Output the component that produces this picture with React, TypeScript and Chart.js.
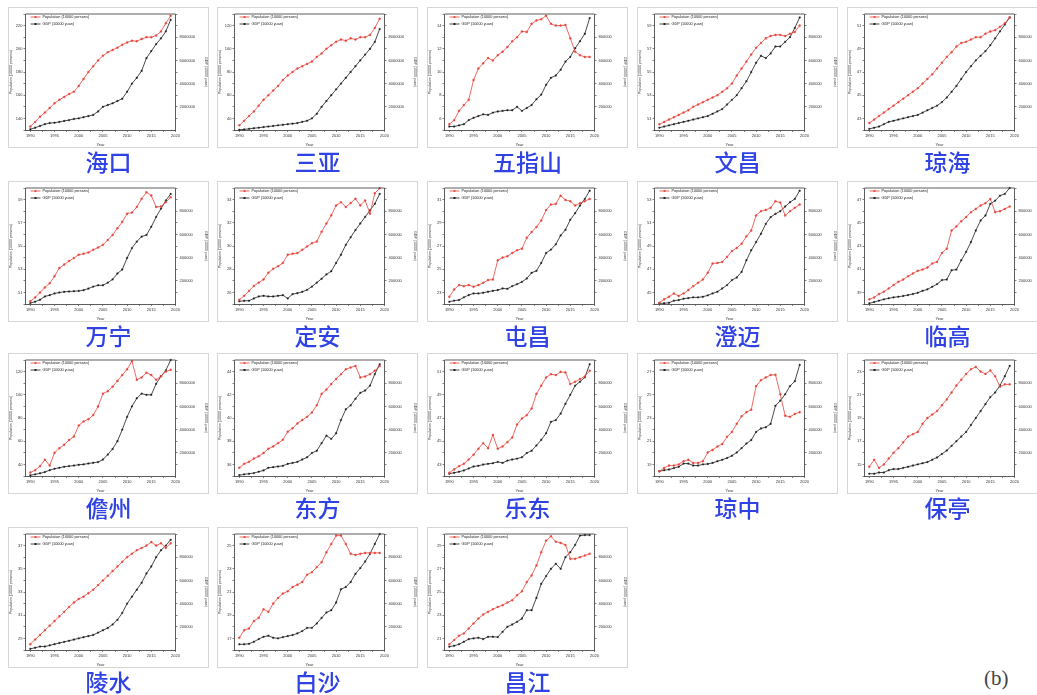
import React, { useEffect, useRef } from "react";
import { Chart, registerables } from "chart.js";

Chart.register(...registerables);

const years = [1990, 1991, 1992, 1993, 1994, 1995, 1996, 1997, 1998, 1999, 2000, 2001, 2002, 2003, 2004, 2005, 2006, 2007, 2008, 2009, 2010, 2011, 2012, 2013, 2014, 2015, 2016, 2017, 2018, 2019];
const yearTicks = [1990, 1995, 2000, 2005, 2010, 2015, 2020];

const popLabel = "Population (10000 persons)";
const gdpLabel = "GDP (10000 yuan)";

// 海口
const haikouPop = [133, 137, 141.5, 145, 149, 153, 156, 158.5, 161, 163, 168, 174, 180, 185, 190, 194, 197, 199, 201, 203.5, 205.5, 207, 206.5, 208.5, 210, 210, 211.5, 215, 222, 228.5];
const haikouGdp = [60000, 200000, 350000, 500000, 600000, 630000, 700000, 780000, 850000, 950000, 1000000, 1100000, 1200000, 1300000, 1600000, 2000000, 2150000, 2300000, 2500000, 2700000, 3300000, 4000000, 4500000, 5100000, 6200000, 6800000, 7400000, 7900000, 8500000, 9500000];
const haikouPopTicks = [140, 160, 180, 200, 220];
const haikouGdpTicks = [2000000, 4000000, 6000000, 8000000];
// 三亚
const sanyaPop = [34, 38, 42, 46, 51, 56, 60, 64, 68, 73, 77, 80, 83, 85, 87, 89, 93, 96, 100, 103, 106, 108, 107, 109, 108, 110, 110, 112, 118, 126];
const sanyaGdp = [20000, 50000, 100000, 150000, 200000, 250000, 300000, 350000, 400000, 450000, 500000, 550000, 600000, 700000, 800000, 1000000, 1400000, 2000000, 2500000, 3000000, 3500000, 4000000, 4500000, 5000000, 5500000, 6000000, 6500000, 7000000, 7600000, 8700000];
const sanyaPopTicks = [40, 60, 80, 100, 120];
const sanyaGdpTicks = [2000000, 4000000, 6000000, 8000000];
// 五指山
const wuzhishanPop = [5.5, 5.85, 6.65, 7.15, 7.6, 9.3, 10.3, 10.75, 11.2, 11.0, 11.45, 11.75, 12.15, 12.65, 13.0, 13.5, 13.45, 14.15, 14.45, 14.55, 14.85, 14.15, 14.0, 14.0, 14.05, 12.9, 11.75, 11.45, 11.3, 11.3];
const wuzhishanGdp = [30000, 30000, 40000, 50000, 85000, 105000, 120000, 135000, 130000, 150000, 160000, 165000, 170000, 170000, 200000, 165000, 190000, 215000, 265000, 305000, 390000, 450000, 470000, 520000, 590000, 630000, 705000, 765000, 830000, 965000];
const wuzhishanPopTicks = [6, 8, 10, 12, 14];
const smallGdpTicks = [200000, 400000, 600000, 800000];
// 文昌
const wenchangPop = [50.5, 50.7, 50.9, 51.1, 51.3, 51.5, 51.7, 52.0, 52.2, 52.4, 52.6, 52.8, 53.0, 53.3, 53.6, 54.0, 54.7, 55.3, 55.9, 56.5, 57.1, 57.5, 57.9, 58.1, 58.2, 58.2, 58.1, 58.3, 58.45, 59.0];
const wenchangGdp = [20000, 30000, 40000, 50000, 60000, 70000, 80000, 90000, 100000, 110000, 120000, 140000, 160000, 180000, 220000, 260000, 300000, 360000, 420000, 500000, 580000, 640000, 620000, 660000, 720000, 720000, 760000, 800000, 880000, 970000];
const wenchangPopTicks = [51, 53, 55, 57, 59];
// 琼海
const qionghaiPop = [42.6, 42.9, 43.2, 43.5, 43.8, 44.1, 44.4, 44.7, 45.0, 45.3, 45.6, 46.0, 46.4, 46.8, 47.3, 47.8, 48.3, 48.7, 49.2, 49.5, 49.6, 49.8, 50.0, 50.0, 50.3, 50.5, 50.6, 50.9, 51.2, 51.7];
const qionghaiGdp = [10000, 20000, 30000, 50000, 70000, 80000, 90000, 100000, 110000, 120000, 130000, 150000, 170000, 190000, 210000, 240000, 280000, 330000, 380000, 440000, 500000, 550000, 600000, 640000, 680000, 730000, 790000, 850000, 910000, 970000];
const qionghaiPopTicks = [43, 45, 47, 49, 51];
// 万宁
const wanningPop = [50.23, 50.57, 50.99, 51.42, 51.78, 52.4, 53.1, 53.4, 53.7, 53.96, 54.25, 54.33, 54.45, 54.67, 54.87, 55.1, 55.52, 55.95, 56.52, 57.08, 57.79, 57.88, 58.36, 59.07, 59.63, 59.35, 58.36, 58.41, 58.78, 59.2];
const wanningGdp = [8000, 20000, 37000, 65000, 76000, 91000, 99000, 105000, 108000, 110000, 113000, 119000, 133000, 150000, 161000, 161000, 184000, 212000, 263000, 297000, 397000, 482000, 538000, 581000, 595000, 666000, 751000, 822000, 892000, 949000];
const wanningPopTicks = [51, 53, 55, 57, 59];
// 定安
const dinganPop = [25.37, 25.71, 26.13, 26.56, 26.84, 27.12, 27.69, 28.03, 28.26, 28.54, 29.25, 29.33, 29.39, 29.67, 29.96, 30.24, 30.38, 31.23, 31.94, 32.65, 33.5, 33.78, 33.36, 33.7, 34.07, 33.5, 33.92, 32.79, 34.55, 34.97];
const dinganGdp = [23000, 28000, 28000, 48000, 65000, 71000, 65000, 65000, 71000, 76000, 48000, 85000, 93000, 105000, 122000, 150000, 184000, 218000, 255000, 283000, 354000, 425000, 510000, 575000, 637000, 694000, 751000, 807000, 864000, 949000];
const dinganPopTicks = [26, 28, 30, 32, 34];
// 屯昌
const tunchangPop = [22.63, 23.26, 23.63, 23.54, 23.63, 23.49, 23.63, 23.83, 24.06, 24.11, 25.77, 26.0, 26.11, 26.4, 26.63, 26.77, 27.71, 28.2, 28.63, 29.2, 30.11, 30.57, 30.63, 31.34, 30.97, 30.86, 30.49, 30.69, 30.86, 31.06];
const tunchangGdp = [20000, 29000, 34000, 57000, 77000, 91000, 91000, 97000, 106000, 114000, 120000, 134000, 131000, 154000, 171000, 191000, 220000, 269000, 286000, 354000, 440000, 469000, 514000, 591000, 640000, 726000, 783000, 849000, 906000, 977000];
const tunchangPopTicks = [23, 25, 27, 29, 31];
// 澄迈
const chengmaiPop = [44.11, 44.4, 44.63, 44.91, 44.69, 44.91, 45.2, 45.54, 45.83, 46.11, 46.69, 47.49, 47.54, 47.63, 48.06, 48.57, 48.83, 49.2, 49.83, 50.34, 51.63, 52.0, 52.11, 52.29, 52.86, 52.74, 51.63, 52.0, 52.29, 52.57];
const chengmaiGdp = [6000, 6000, 11000, 29000, 34000, 46000, 51000, 57000, 57000, 63000, 74000, 91000, 106000, 134000, 163000, 206000, 229000, 277000, 377000, 463000, 534000, 606000, 691000, 749000, 777000, 800000, 840000, 877000, 906000, 977000];
const chengmaiPopTicks = [45, 47, 49, 51, 53];
// 临高
const lingaoPop = [38.4, 38.57, 38.86, 39.06, 39.34, 39.63, 39.91, 40.11, 40.4, 40.63, 40.86, 40.97, 41.14, 41.49, 41.63, 42.4, 42.77, 44.34, 44.69, 45.14, 45.49, 45.91, 46.2, 46.49, 46.69, 47.06, 45.91, 46.0, 46.2, 46.4];
const lingaoGdp = [6000, 17000, 29000, 40000, 49000, 57000, 63000, 69000, 77000, 86000, 97000, 114000, 126000, 149000, 171000, 206000, 211000, 291000, 297000, 377000, 449000, 534000, 634000, 720000, 763000, 863000, 891000, 934000, 949000, 1000000];
const lingaoPopTicks = [39, 41, 43, 45, 47];
// 儋州
const danzhouPop = [33, 35, 38.5, 44, 39, 50, 54, 57, 61, 64, 73.5, 77, 79, 82.5, 90, 101, 103, 107, 112, 117, 122, 129, 113, 115, 119, 117, 113, 116, 120, 121.5];
const danzhouGdp = [60000, 140000, 230000, 340000, 500000, 630000, 710000, 800000, 850000, 900000, 970000, 1000000, 1080000, 1140000, 1200000, 1420000, 1850000, 2330000, 3000000, 4000000, 5100000, 6000000, 6700000, 7100000, 7000000, 7000000, 7950000, 8600000, 9100000, 10000000];
const danzhouPopTicks = [40, 60, 80, 100, 120];
const danzhouGdpTicks = [2000000, 4000000, 6000000, 8000000];
// 东方
const dongfangPop = [35.71, 36.05, 36.22, 36.5, 36.7, 36.98, 37.35, 37.55, 37.83, 38.12, 38.82, 39.11, 39.53, 39.82, 40.1, 40.47, 41.09, 42.08, 42.45, 42.93, 43.36, 43.78, 44.2, 44.35, 44.49, 43.5, 43.58, 43.78, 44.07, 44.49];
const dongfangGdp = [8000, 14000, 20000, 25000, 37000, 48000, 71000, 76000, 82000, 88000, 105000, 113000, 122000, 142000, 161000, 198000, 218000, 283000, 348000, 320000, 368000, 482000, 575000, 609000, 666000, 717000, 737000, 779000, 878000, 963000];
const dongfangPopTicks = [36, 38, 40, 42, 44];
// 乐东
const ledongPop = [42.28, 42.57, 42.85, 43.05, 43.42, 43.84, 44.35, 44.83, 44.4, 45.54, 44.35, 44.55, 44.92, 45.31, 46.45, 46.96, 47.24, 47.81, 49.08, 49.79, 50.5, 50.78, 50.7, 50.98, 50.92, 49.93, 50.13, 50.36, 50.58, 51.07];
const ledongGdp = [20000, 28000, 37000, 48000, 65000, 82000, 88000, 99000, 105000, 110000, 122000, 113000, 133000, 142000, 150000, 161000, 198000, 218000, 263000, 312000, 368000, 467000, 482000, 538000, 623000, 700000, 779000, 813000, 850000, 963000];
const ledongPopTicks = [43, 45, 47, 49, 51];
// 琼中
const qiongzhongPop = [18.4, 18.7, 18.9, 18.9, 19.0, 19.27, 19.4, 19.13, 19.13, 19.27, 20.03, 20.25, 20.54, 20.76, 21.38, 21.8, 22.5, 23.15, 23.5, 23.72, 25.75, 26.25, 26.5, 26.7, 26.73, 25.04, 23.2, 23.1, 23.35, 23.5];
const qiongzhongGdp = [40000, 50000, 56000, 68000, 80000, 107000, 107000, 90000, 90000, 100000, 104000, 113000, 127000, 140000, 155000, 175000, 203000, 240000, 280000, 310000, 380000, 410000, 420000, 450000, 606000, 650000, 704000, 775000, 817000, 958000];
const qiongzhongPopTicks = [19, 21, 23, 25, 27];
// 保亭
const baotingPop = [14.8, 15.4, 14.7, 15.0, 15.5, 16.0, 16.4, 16.9, 17.4, 17.6, 17.8, 18.5, 19.0, 19.3, 19.6, 20.1, 20.6, 21.2, 21.8, 22.3, 22.8, 23.2, 23.4, 23.0, 22.8, 23.1, 22.6, 21.7, 21.9, 21.9];
const baotingGdp = [20000, 20000, 30000, 30000, 50000, 60000, 60000, 70000, 80000, 90000, 100000, 110000, 120000, 140000, 160000, 190000, 220000, 260000, 300000, 340000, 380000, 440000, 500000, 560000, 620000, 680000, 720000, 780000, 860000, 950000];
const baotingPopTicks = [15, 17, 19, 21, 23];
// 陵水
const lingshuiPop = [28.5, 28.9, 29.3, 29.7, 30.1, 30.5, 30.9, 31.3, 31.7, 32.1, 32.4, 32.6, 32.9, 33.2, 33.6, 34.0, 34.4, 34.8, 35.2, 35.6, 36.0, 36.3, 36.6, 36.8, 37.0, 37.3, 37.0, 37.2, 36.8, 37.2];
const lingshuiGdp = [10000, 20000, 30000, 30000, 40000, 50000, 60000, 70000, 80000, 90000, 100000, 110000, 120000, 130000, 150000, 170000, 190000, 220000, 260000, 320000, 400000, 460000, 520000, 580000, 660000, 720000, 800000, 860000, 900000, 950000];
const lingshuiPopTicks = [29, 31, 33, 35, 37];
// 白沙
const baishaPop = [17.06, 17.71, 17.86, 18.49, 18.77, 19.51, 19.29, 20.0, 20.49, 20.86, 21.06, 21.43, 21.63, 21.86, 22.49, 22.71, 23.14, 23.57, 24.43, 25.14, 25.86, 25.86, 25.14, 24.29, 24.2, 24.29, 24.37, 24.37, 24.37, 24.37];
const baishaGdp = [49000, 49000, 54000, 71000, 94000, 114000, 123000, 106000, 100000, 111000, 120000, 129000, 143000, 163000, 191000, 191000, 229000, 277000, 323000, 343000, 409000, 523000, 543000, 586000, 657000, 706000, 763000, 829000, 914000, 1000000];
const baishaPopTicks = [17, 19, 21, 23, 25];
// 昌江
const changjiangPop = [20.49, 20.86, 21.23, 21.43, 21.86, 22.29, 22.71, 23.06, 23.29, 23.51, 23.71, 23.86, 24.09, 24.29, 24.71, 25.06, 25.86, 26.43, 27.29, 28.43, 29.43, 29.8, 29.34, 29.23, 29.06, 27.86, 27.86, 28.0, 28.14, 28.29];
const changjiangGdp = [29000, 37000, 49000, 71000, 94000, 100000, 106000, 94000, 114000, 114000, 111000, 157000, 200000, 220000, 243000, 271000, 343000, 343000, 449000, 571000, 637000, 700000, 743000, 700000, 800000, 843000, 906000, 986000, 991000, 991000];
const changjiangPopTicks = [21, 23, 25, 27, 29];

type City = {
  name: string;
  pop: number[];
  gdp: number[];
  popMin: number;
  popMax: number;
  gdpMax: number;
  popTicks: number[];
  gdpTicks: number[];
};

const cities: City[] = [
  { name: "海口", pop: haikouPop, gdp: haikouGdp, popMin: 130, popMax: 230, gdpMax: 10000000, popTicks: haikouPopTicks, gdpTicks: haikouGdpTicks },
  { name: "三亚", pop: sanyaPop, gdp: sanyaGdp, popMin: 30, popMax: 130, gdpMax: 10000000, popTicks: sanyaPopTicks, gdpTicks: sanyaGdpTicks },
  { name: "五指山", pop: wuzhishanPop, gdp: wuzhishanGdp, popMin: 5, popMax: 15, gdpMax: 1000000, popTicks: wuzhishanPopTicks, gdpTicks: smallGdpTicks },
  { name: "文昌", pop: wenchangPop, gdp: wenchangGdp, popMin: 50, popMax: 60, gdpMax: 1000000, popTicks: wenchangPopTicks, gdpTicks: smallGdpTicks },
  { name: "琼海", pop: qionghaiPop, gdp: qionghaiGdp, popMin: 42, popMax: 52, gdpMax: 1000000, popTicks: qionghaiPopTicks, gdpTicks: smallGdpTicks },
  { name: "万宁", pop: wanningPop, gdp: wanningGdp, popMin: 50, popMax: 60, gdpMax: 1000000, popTicks: wanningPopTicks, gdpTicks: smallGdpTicks },
  { name: "定安", pop: dinganPop, gdp: dinganGdp, popMin: 25, popMax: 35, gdpMax: 1000000, popTicks: dinganPopTicks, gdpTicks: smallGdpTicks },
  { name: "屯昌", pop: tunchangPop, gdp: tunchangGdp, popMin: 22, popMax: 32, gdpMax: 1000000, popTicks: tunchangPopTicks, gdpTicks: smallGdpTicks },
  { name: "澄迈", pop: chengmaiPop, gdp: chengmaiGdp, popMin: 44, popMax: 54, gdpMax: 1000000, popTicks: chengmaiPopTicks, gdpTicks: smallGdpTicks },
  { name: "临高", pop: lingaoPop, gdp: lingaoGdp, popMin: 38, popMax: 48, gdpMax: 1000000, popTicks: lingaoPopTicks, gdpTicks: smallGdpTicks },
  { name: "儋州", pop: danzhouPop, gdp: danzhouGdp, popMin: 30, popMax: 130, gdpMax: 10000000, popTicks: danzhouPopTicks, gdpTicks: danzhouGdpTicks },
  { name: "东方", pop: dongfangPop, gdp: dongfangGdp, popMin: 35, popMax: 45, gdpMax: 1000000, popTicks: dongfangPopTicks, gdpTicks: smallGdpTicks },
  { name: "乐东", pop: ledongPop, gdp: ledongGdp, popMin: 42, popMax: 52, gdpMax: 1000000, popTicks: ledongPopTicks, gdpTicks: smallGdpTicks },
  { name: "琼中", pop: qiongzhongPop, gdp: qiongzhongGdp, popMin: 18, popMax: 28, gdpMax: 1000000, popTicks: qiongzhongPopTicks, gdpTicks: smallGdpTicks },
  { name: "保亭", pop: baotingPop, gdp: baotingGdp, popMin: 14, popMax: 24, gdpMax: 1000000, popTicks: baotingPopTicks, gdpTicks: smallGdpTicks },
  { name: "陵水", pop: lingshuiPop, gdp: lingshuiGdp, popMin: 28, popMax: 38, gdpMax: 1000000, popTicks: lingshuiPopTicks, gdpTicks: smallGdpTicks },
  { name: "白沙", pop: baishaPop, gdp: baishaGdp, popMin: 16, popMax: 26, gdpMax: 1000000, popTicks: baishaPopTicks, gdpTicks: smallGdpTicks },
  { name: "昌江", pop: changjiangPop, gdp: changjiangGdp, popMin: 20, popMax: 30, gdpMax: 1000000, popTicks: changjiangPopTicks, gdpTicks: smallGdpTicks },
];

const RED = "#e8453c";
const BLACK = "#1e1e1e";
const AXIS = "#333";
const FONT = "'Liberation Sans', Arial, sans-serif";

const colLefts = [8, 217, 427, 637, 847];
const rowTops = [7, 181, 353, 527];
const PANEL_W = 201;
const PANEL_H = 141;

function withMinors(majors: number[], min: number, max: number): number[] {
  const step = majors.length > 1 ? majors[1] - majors[0] : 1;
  const out: number[] = [];
  const first = majors[0] - step / 2;
  for (let v = first; v <= max + 1e-9; v += step / 2) {
    if (v >= min - 1e-9) out.push(Math.round(v * 1000) / 1000);
  }
  return out;
}

const frameLegendPlugin = {
  id: "frameLegend",
  afterDatasetsDraw(chart: any) {
    const { ctx, chartArea: a } = chart;
    ctx.save();
    ctx.strokeStyle = AXIS;
    ctx.lineWidth = 0.8;
    ctx.beginPath();
    ctx.moveTo(a.left, a.top);
    ctx.lineTo(a.right, a.top);
    ctx.stroke();
    chart.data.datasets.forEach((ds: any, i: number) => {
      const y = a.top + 3 + i * 7;
      const x0 = a.left + 5;
      ctx.strokeStyle = ds.borderColor;
      ctx.fillStyle = ds.borderColor;
      ctx.lineWidth = 0.8;
      ctx.beginPath();
      ctx.moveTo(x0, y);
      ctx.lineTo(x0 + 10, y);
      ctx.stroke();
      if (ds.pointStyle === "rect") {
        ctx.fillRect(x0 + 4, y - 1, 2, 2);
      } else {
        ctx.beginPath();
        ctx.arc(x0 + 5, y, 1.1, 0, Math.PI * 2);
        ctx.fill();
      }
      ctx.fillStyle = "#222";
      ctx.font = `3.8px ${FONT}`;
      ctx.textBaseline = "middle";
      ctx.textAlign = "left";
      ctx.fillText(ds.label, x0 + 12, y);
    });
    ctx.restore();
  },
};

function Panel({ city, left, top }: { city: City; left: number; top: number }) {
  const ref = useRef<HTMLCanvasElement | null>(null);
  useEffect(() => {
    if (!ref.current) return;
    const xTicks = withMinors(yearTicks, 1989, 2020);
    const pTicks = withMinors(city.popTicks, city.popMin, city.popMax);
    const gTicks = withMinors(city.gdpTicks, 0, city.gdpMax);
    const tickFont = { size: 4, family: FONT };
    const grid = { drawOnChartArea: false, drawTicks: true, tickLength: 2, color: AXIS, lineWidth: 0.6 };
    const border = { display: true, color: AXIS, width: 0.8 };
    const chart = new Chart(ref.current, {
      type: "line",
      data: {
        datasets: [
          {
            label: popLabel,
            data: city.pop.map((v, i) => ({ x: years[i], y: v })),
            yAxisID: "yL",
            borderColor: RED,
            backgroundColor: RED,
            borderWidth: 0.8,
            pointStyle: "circle",
            pointRadius: 1,
            pointBorderWidth: 0.4,
            clip: false,
          },
          {
            label: gdpLabel,
            data: city.gdp.map((v, i) => ({ x: years[i], y: v })),
            yAxisID: "yR",
            borderColor: BLACK,
            backgroundColor: BLACK,
            borderWidth: 0.8,
            pointStyle: "rect",
            pointRadius: 1,
            pointBorderWidth: 0.4,
            clip: false,
          },
        ],
      },
      options: {
        responsive: false,
        animation: false,
        devicePixelRatio: 1,
        layout: { padding: { top: 6, left: 0, right: 0, bottom: 0 } },
        plugins: { legend: { display: false }, tooltip: { enabled: false }, title: { display: false } },
        scales: {
          x: {
            type: "linear",
            position: "bottom",
            min: 1989,
            max: 2020,
            afterBuildTicks: (s: any) => {
              s.ticks = xTicks.map((v) => ({ value: v }));
            },
            afterFit: (s: any) => {
              s.height = 17;
            },
            ticks: {
              autoSkip: false,
              maxRotation: 0,
              minRotation: 0,
              padding: 1,
              font: tickFont,
              color: AXIS,
              callback: (v: any) => (yearTicks.includes(v) ? String(v) : ""),
            },
            grid,
            border,
            title: { display: true, text: "Year", font: { size: 4, family: FONT }, color: AXIS, padding: 0 },
          },
          yL: {
            type: "linear",
            position: "left",
            min: city.popMin,
            max: city.popMax,
            afterBuildTicks: (s: any) => {
              s.ticks = pTicks.map((v) => ({ value: v }));
            },
            afterFit: (s: any) => {
              s.width = 16.5;
            },
            ticks: {
              autoSkip: false,
              padding: 1,
              font: tickFont,
              color: AXIS,
              callback: (v: any) => (city.popTicks.includes(v) ? String(v) : ""),
            },
            grid,
            border,
            title: { display: true, text: popLabel, font: { size: 3.6, family: FONT }, color: AXIS, padding: 0 },
          },
          yR: {
            type: "linear",
            position: "right",
            min: 0,
            max: city.gdpMax,
            afterBuildTicks: (s: any) => {
              s.ticks = gTicks.map((v) => ({ value: v }));
            },
            afterFit: (s: any) => {
              s.width = 32.5;
            },
            ticks: {
              autoSkip: false,
              padding: 2,
              font: tickFont,
              color: AXIS,
              callback: (v: any) => (city.gdpTicks.includes(v) ? String(v) : ""),
            },
            grid,
            border,
            title: { display: true, text: gdpLabel, font: { size: 3.6, family: FONT }, color: AXIS, padding: 0 },
          },
        },
      },
      plugins: [frameLegendPlugin],
    } as any);
    return () => chart.destroy();
  }, [city]);
  return (
    <>
      <div
        style={{
          position: "absolute",
          left,
          top,
          width: PANEL_W,
          height: PANEL_H,
          border: "1px solid #d6d6d6",
          boxSizing: "border-box",
          background: "#fff",
        }}
      >
        <canvas ref={ref} width={PANEL_W - 2} height={PANEL_H - 2} style={{ display: "block" }} />
      </div>
      <div
        style={{
          position: "absolute",
          left,
          top: top + PANEL_H + 2,
          width: PANEL_W,
          textAlign: "center",
          fontFamily: "'Noto Sans CJK SC', sans-serif",
          fontSize: 23,
          lineHeight: "23px",
          fontWeight: 500,
          color: "#2f42e4",
        }}
      >
        {city.name}
      </div>
    </>
  );
}

export default function App() {
  return (
    <div
      style={{
        position: "absolute",
        left: 0,
        top: 0,
        width: 1037,
        height: 695,
        overflow: "hidden",
        background: "#fff",
      }}
    >
      {cities.map((c, i) => (
        <Panel key={c.name} city={c} left={colLefts[i % 5]} top={rowTops[Math.floor(i / 5)]} />
      ))}
      <div
        style={{
          position: "absolute",
          left: 984,
          top: 666,
          fontFamily: "'Liberation Serif', serif",
          fontSize: 21,
          lineHeight: "24px",
          color: "#444",
        }}
      >
        (b)
      </div>
    </div>
  );
}
